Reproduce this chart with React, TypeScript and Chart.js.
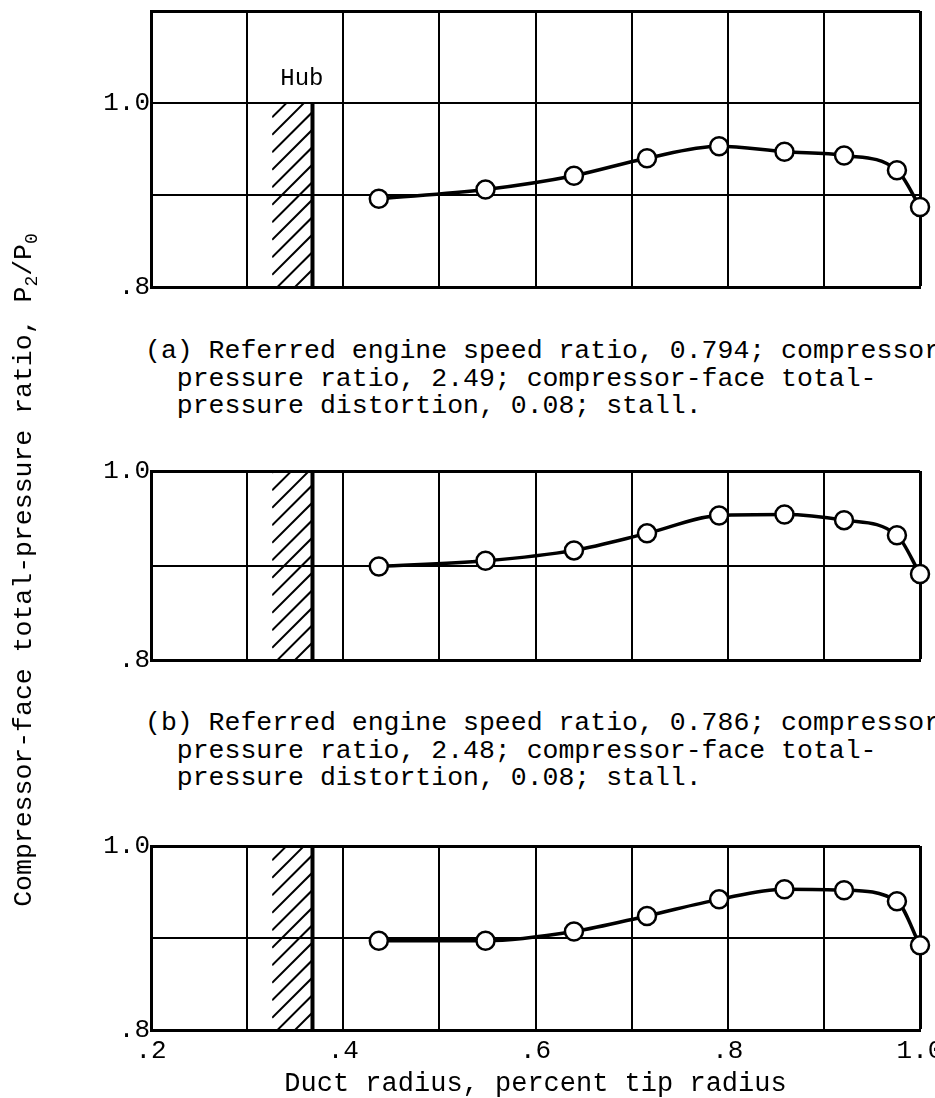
import { useEffect, useRef } from 'react';
import { Chart, registerables } from 'chart.js';

Chart.register(...registerables);

// Rake probe positions, fraction of tip radius (same rake in every run)
const radii = [0.437, 0.548, 0.64, 0.716, 0.791, 0.859, 0.921, 0.976, 1.0];

// Compressor-face total-pressure ratio P2/P0 at each probe
const ratioRunA = [0.896, 0.906, 0.921, 0.94, 0.953, 0.947, 0.943, 0.927, 0.887];
const ratioRunB = [0.899, 0.905, 0.916, 0.934, 0.953, 0.954, 0.948, 0.932, 0.891];
const ratioRunC = [0.897, 0.897, 0.907, 0.924, 0.942, 0.953, 0.952, 0.94, 0.892];

// Hub wall extent (fraction of tip radius)
const hubInner = 0.326;
const hubOuter = 0.368;

// Labelled ticks
const xTickValues = [0.2, 0.4, 0.6, 0.8, 1.0];
const xTickTexts = ['.2', '.4', '.6', '.8', '1.0'];
const yTickValues = [0.8, 1.0];
const yTickTexts = ['.8', '1.0'];

const captionA = [
  '(a) Referred engine speed ratio, 0.794; compressor',
  '  pressure ratio, 2.49; compressor-face total-',
  '  pressure distortion, 0.08; stall.',
];
const captionB = [
  '(b) Referred engine speed ratio, 0.786; compressor',
  '  pressure ratio, 2.48; compressor-face total-',
  '  pressure distortion, 0.08; stall.',
];

const FONT = '"Liberation Mono", "Courier New", monospace';
const CANVAS_W = 990;
const AREA_LEFT = 151;
const AREA_RIGHT = 920;
const PAD_TOP = 30;

function labelFor(values: number[], texts: string[], v: number) {
  const i = values.findIndex((t) => Math.abs(t - v) < 1e-6);
  return i >= 0 ? texts[i] : '';
}

// Hatched hub wall plus the optional "Hub" caption above it
const hubPlugin = {
  id: 'hub',
  beforeDatasetsDraw(chart: any, _args: any, opts: any) {
    const { ctx, scales } = chart;
    const x = scales.x;
    const y = scales.y;
    const x0 = x.getPixelForValue(hubInner);
    const x1 = x.getPixelForValue(hubOuter);
    const yTop = y.getPixelForValue(1.0);
    const yBot = y.getPixelForValue(0.8);
    const w = x1 - x0;
    ctx.save();
    ctx.beginPath();
    ctx.rect(x0, yTop, w, yBot - yTop);
    ctx.clip();
    ctx.strokeStyle = '#000';
    ctx.lineWidth = 2;
    for (let k = yBot + w; k > yTop; k -= 17.5) {
      ctx.beginPath();
      ctx.moveTo(x0, k);
      ctx.lineTo(x1, k - w);
      ctx.stroke();
    }
    ctx.restore();
    ctx.save();
    ctx.strokeStyle = '#000';
    ctx.lineWidth = 4;
    ctx.beginPath();
    ctx.moveTo(x1, yTop);
    ctx.lineTo(x1, yBot);
    ctx.stroke();
    if (opts && opts.label) {
      ctx.fillStyle = '#000';
      ctx.font = `24px ${FONT}`;
      ctx.textAlign = 'center';
      ctx.textBaseline = 'middle';
      ctx.fillText('Hub', x.getPixelForValue(0.357), y.getPixelForValue(1.027));
    }
    ctx.restore();
  },
};

type PanelProps = {
  values: number[];
  areaTop: number;
  areaBottom: number;
  yMax: number;
  showXAxis: boolean;
  hubLabel: boolean;
};

function Panel({ values, areaTop, areaBottom, yMax, showXAxis, hubLabel }: PanelProps) {
  const ref = useRef<HTMLCanvasElement>(null);
  const xAxisHeight = showXAxis ? 1100 - areaBottom : 0;
  const padBottom = showXAxis ? 0 : 25;
  const height = PAD_TOP + (areaBottom - areaTop) + xAxisHeight + padBottom;

  useEffect(() => {
    if (!ref.current) return;
    const tickFont = { family: FONT, size: 26 };
    const edgeWidth = (max: number) => (c: any) =>
      c.tick && Math.abs(c.tick.value - max) < 1e-6 ? 3 : 2;
    const chart = new Chart(ref.current, {
      type: 'line',
      data: {
        datasets: [
          {
            data: radii.map((r, i) => ({ x: r, y: values[i] })),
            borderColor: '#000',
            borderWidth: 3.5,
            pointRadius: 9,
            pointBorderWidth: 2.5,
            pointBackgroundColor: '#fff',
            pointBorderColor: '#000',
            cubicInterpolationMode: 'monotone',
            fill: false,
            clip: false,
          } as any,
        ],
      },
      options: {
        animation: false,
        responsive: false,
        maintainAspectRatio: false,
        devicePixelRatio: 1,
        events: [],
        layout: {
          padding: { left: 0, right: CANVAS_W - AREA_RIGHT, top: PAD_TOP, bottom: padBottom },
        },
        plugins: {
          legend: { display: false },
          tooltip: { enabled: false },
          hub: { label: hubLabel },
        } as any,
        scales: {
          x: {
            type: 'linear',
            min: 0.2,
            max: 1.0,
            ticks: {
              stepSize: 0.1,
              autoSkip: false,
              maxRotation: 0,
              display: showXAxis,
              padding: 6,
              color: '#000',
              font: tickFont,
              callback: (v: any) => labelFor(xTickValues, xTickTexts, Number(v)),
            },
            grid: { color: '#000', lineWidth: edgeWidth(1.0), drawTicks: false },
            border: { color: '#000', width: 3 },
            title: {
              display: showXAxis,
              text: 'Duct radius, percent tip radius',
              color: '#000',
              font: { family: FONT, size: 27 },
              padding: { top: 0, bottom: 0 },
            },
            afterFit: (s: any) => {
              s.height = xAxisHeight;
            },
          },
          y: {
            type: 'linear',
            min: 0.8,
            max: yMax,
            ticks: {
              stepSize: 0.1,
              autoSkip: false,
              padding: 1,
              color: '#000',
              font: tickFont,
              callback: (v: any) => labelFor(yTickValues, yTickTexts, Number(v)),
            },
            grid: { color: '#000', lineWidth: edgeWidth(yMax), drawTicks: false },
            border: { color: '#000', width: 3 },
            afterFit: (s: any) => {
              s.width = AREA_LEFT;
            },
          },
        },
      },
      plugins: [hubPlugin],
    });
    return () => chart.destroy();
  }, []);

  return (
    <canvas
      ref={ref}
      width={CANVAS_W}
      height={height}
      style={{
        position: 'absolute',
        left: 0,
        top: areaTop - PAD_TOP,
        width: CANVAS_W,
        height,
      }}
    />
  );
}

function Caption({ lines, top }: { lines: string[]; top: number }) {
  return (
    <div
      style={{
        position: 'absolute',
        left: 145,
        top,
        whiteSpace: 'pre',
        fontFamily: FONT,
        fontSize: 26.5,
        lineHeight: '27.5px',
        color: '#000',
      }}
    >
      {lines.join('\n')}
    </div>
  );
}

export default function App() {
  return (
    <div
      style={{
        position: 'absolute',
        left: 0,
        top: 0,
        width: 935,
        height: 1098,
        overflow: 'hidden',
        background: '#fff',
      }}
    >
      <Panel values={ratioRunA} areaTop={11} areaBottom={287} yMax={1.1} showXAxis={false} hubLabel={true} />
      <Panel values={ratioRunB} areaTop={471} areaBottom={660} yMax={1.0} showXAxis={false} hubLabel={false} />
      <Panel values={ratioRunC} areaTop={846} areaBottom={1030} yMax={1.0} showXAxis={true} hubLabel={false} />
      <Caption lines={captionA} top={338} />
      <Caption lines={captionB} top={710} />
      <div
        style={{
          position: 'absolute',
          left: 24 - 360,
          top: 570 - 16,
          width: 720,
          height: 32,
          lineHeight: '32px',
          textAlign: 'center',
          transform: 'rotate(-90deg)',
          fontFamily: FONT,
          fontSize: 26.5,
          color: '#000',
          whiteSpace: 'pre',
        }}
      >
        Compressor-face total-pressure ratio, P<sub style={{ fontSize: 18 }}>2</sub>/P
        <sub style={{ fontSize: 18 }}>0</sub>
      </div>
    </div>
  );
}
